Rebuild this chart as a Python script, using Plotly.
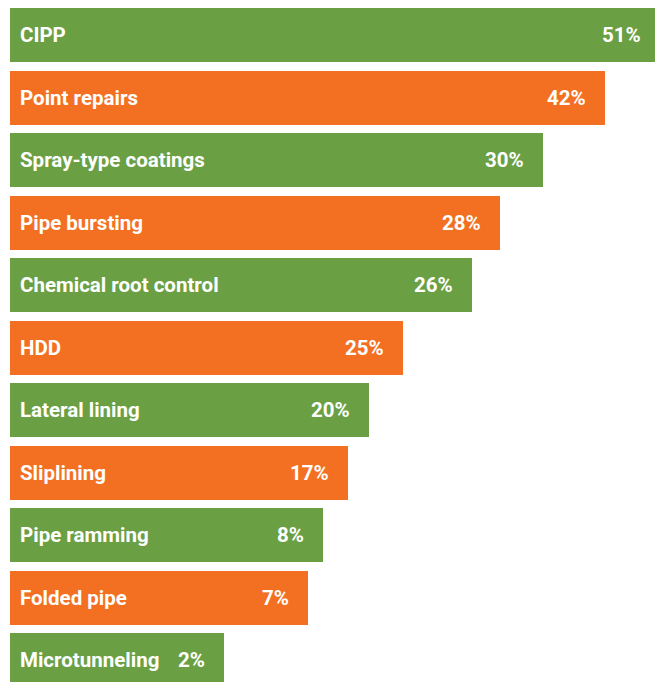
import plotly.graph_objects as go

categories = ["CIPP", "Point repairs", "Spray-type coatings", "Pipe bursting",
              "Chemical root control", "HDD", "Lateral lining", "Sliplining",
              "Pipe ramming", "Folded pipe", "Microtunneling"]
percent_values = [51, 42, 30, 28, 26, 25, 20, 17, 8, 7, 2]
# bar extents as drawn in the infographic (not proportional to the percentages)
bar_extents = [51.6, 47.05, 42.14, 38.74, 36.53, 31.07, 28.39, 26.73, 24.75, 23.56, 16.92]
percent_labels = [f"{v}%" for v in percent_values]

X_MAX = 51
GREEN = "#6b9f43"
ORANGE = "#f37022"
colors = [GREEN if i % 2 == 0 else ORANGE for i in range(len(categories))]

fig = go.Figure()
fig.add_trace(go.Bar(
    x=bar_extents, y=categories, orientation="h",
    marker=dict(color=colors, line=dict(width=0)),
    width=0.864, hoverinfo="skip",
))

FONT = "Roboto"
FSIZE = 20.5
annotations = []
for cat, ext, lab in zip(categories, bar_extents, percent_labels):
    annotations.append(dict(
        x=0, y=cat, xref="x", yref="y", text=f"<b>{cat}</b>",
        showarrow=False, xanchor="left", yanchor="middle", xshift=8,
        font=dict(family=FONT, size=FSIZE, color="white"),
    ))
    clipped = ext > X_MAX
    annotations.append(dict(
        x=min(ext, X_MAX), y=cat, xref="x", yref="y", text=f"<b>{lab}</b>",
        showarrow=False, xanchor="right", yanchor="middle",
        xshift=-12 if clipped else -17,
        font=dict(family=FONT, size=FSIZE, color="white"),
    ))

fig.update_layout(
    width=655, height=682,
    margin=dict(l=10, r=0, t=0, b=0),
    paper_bgcolor="white", plot_bgcolor="white",
    showlegend=False,
    hovermode=False,
    xaxis=dict(range=[0, X_MAX], visible=False, fixedrange=True),
    yaxis=dict(range=[10.352, -0.56], visible=False, fixedrange=True,
               categoryorder="array", categoryarray=categories),
    annotations=annotations,
    bargap=0,
)

fig.write_html(
    "out.html",
    config={"displayModeBar": False, "staticPlot": True},
    post_script="document.body.style.margin='0';document.body.style.overflow='hidden';",
)
